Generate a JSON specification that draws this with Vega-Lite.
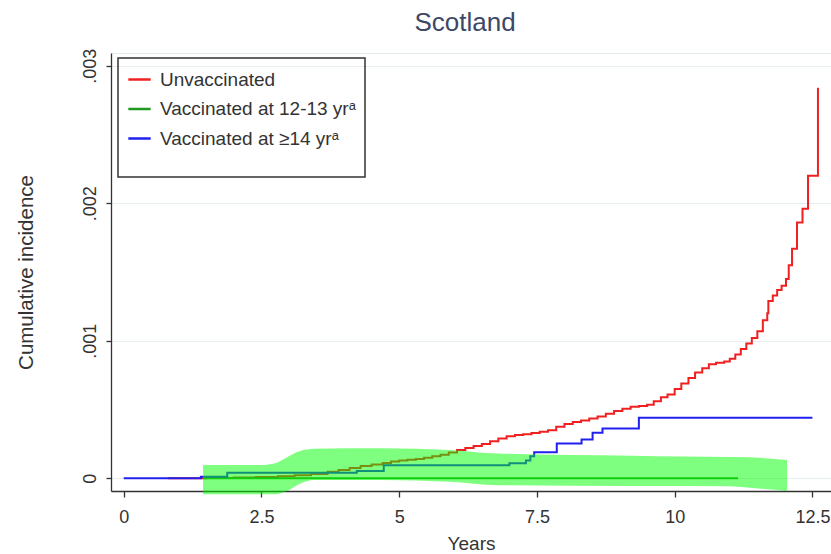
{
  "$schema": "https://vega.github.io/schema/vega-lite/v6.json",
  "autosize": "none",
  "padding": {"left": 111, "top": 53, "right": 0, "bottom": 63},
  "width": 720,
  "height": 438,
  "background": "white",
  "config": {
    "font": "Liberation Sans",
    "view": {"stroke": "#e4ecec", "strokeWidth": 1}
  },
  "title": {
    "text": "Scotland",
    "fontSize": 26,
    "fontWeight": "normal",
    "color": "#3d4766",
    "anchor": "middle",
    "offset": 12,
    "dx": -6
  },
  "datasets": {
    "curves": [
      {"series": "Unvaccinated", "years": 0.8, "ci": 0},
      {"series": "Unvaccinated", "years": 1.5, "ci": 0.000003},
      {"series": "Unvaccinated", "years": 2.0, "ci": 0.000006},
      {"series": "Unvaccinated", "years": 2.4, "ci": 0.00001},
      {"series": "Unvaccinated", "years": 2.8, "ci": 0.000015},
      {"series": "Unvaccinated", "years": 3.1, "ci": 0.000022},
      {"series": "Unvaccinated", "years": 3.4, "ci": 0.000032},
      {"series": "Unvaccinated", "years": 3.7, "ci": 0.000048},
      {"series": "Unvaccinated", "years": 3.9, "ci": 0.00006},
      {"series": "Unvaccinated", "years": 4.1, "ci": 0.000075},
      {"series": "Unvaccinated", "years": 4.3, "ci": 0.00009},
      {"series": "Unvaccinated", "years": 4.5, "ci": 0.0001},
      {"series": "Unvaccinated", "years": 4.7, "ci": 0.000112},
      {"series": "Unvaccinated", "years": 4.85, "ci": 0.000122},
      {"series": "Unvaccinated", "years": 5.0, "ci": 0.00013},
      {"series": "Unvaccinated", "years": 5.15, "ci": 0.000135},
      {"series": "Unvaccinated", "years": 5.3, "ci": 0.00014},
      {"series": "Unvaccinated", "years": 5.45, "ci": 0.00015},
      {"series": "Unvaccinated", "years": 5.6, "ci": 0.00016},
      {"series": "Unvaccinated", "years": 5.75, "ci": 0.000172},
      {"series": "Unvaccinated", "years": 5.9, "ci": 0.000188},
      {"series": "Unvaccinated", "years": 6.05, "ci": 0.000205},
      {"series": "Unvaccinated", "years": 6.2, "ci": 0.00022},
      {"series": "Unvaccinated", "years": 6.35, "ci": 0.000235},
      {"series": "Unvaccinated", "years": 6.5, "ci": 0.00025},
      {"series": "Unvaccinated", "years": 6.65, "ci": 0.00027},
      {"series": "Unvaccinated", "years": 6.8, "ci": 0.00029},
      {"series": "Unvaccinated", "years": 6.95, "ci": 0.000305},
      {"series": "Unvaccinated", "years": 7.1, "ci": 0.000315},
      {"series": "Unvaccinated", "years": 7.25, "ci": 0.00032},
      {"series": "Unvaccinated", "years": 7.4, "ci": 0.00033},
      {"series": "Unvaccinated", "years": 7.55, "ci": 0.000338},
      {"series": "Unvaccinated", "years": 7.7, "ci": 0.00035},
      {"series": "Unvaccinated", "years": 7.85, "ci": 0.000375},
      {"series": "Unvaccinated", "years": 8.0, "ci": 0.000395},
      {"series": "Unvaccinated", "years": 8.15, "ci": 0.00041},
      {"series": "Unvaccinated", "years": 8.3, "ci": 0.00042},
      {"series": "Unvaccinated", "years": 8.45, "ci": 0.000435},
      {"series": "Unvaccinated", "years": 8.6, "ci": 0.00045},
      {"series": "Unvaccinated", "years": 8.75, "ci": 0.00047},
      {"series": "Unvaccinated", "years": 8.9, "ci": 0.00049},
      {"series": "Unvaccinated", "years": 9.05, "ci": 0.000505},
      {"series": "Unvaccinated", "years": 9.2, "ci": 0.00052},
      {"series": "Unvaccinated", "years": 9.35, "ci": 0.000525},
      {"series": "Unvaccinated", "years": 9.5, "ci": 0.000535},
      {"series": "Unvaccinated", "years": 9.62, "ci": 0.00056},
      {"series": "Unvaccinated", "years": 9.75, "ci": 0.00059},
      {"series": "Unvaccinated", "years": 9.87, "ci": 0.00061},
      {"series": "Unvaccinated", "years": 10.0, "ci": 0.00065},
      {"series": "Unvaccinated", "years": 10.12, "ci": 0.00069},
      {"series": "Unvaccinated", "years": 10.25, "ci": 0.00073},
      {"series": "Unvaccinated", "years": 10.37, "ci": 0.00077},
      {"series": "Unvaccinated", "years": 10.5, "ci": 0.0008},
      {"series": "Unvaccinated", "years": 10.62, "ci": 0.00083},
      {"series": "Unvaccinated", "years": 10.75, "ci": 0.00084},
      {"series": "Unvaccinated", "years": 10.9, "ci": 0.00085},
      {"series": "Unvaccinated", "years": 11.0, "ci": 0.00087},
      {"series": "Unvaccinated", "years": 11.1, "ci": 0.0009},
      {"series": "Unvaccinated", "years": 11.2, "ci": 0.00094},
      {"series": "Unvaccinated", "years": 11.3, "ci": 0.00098},
      {"series": "Unvaccinated", "years": 11.4, "ci": 0.00102},
      {"series": "Unvaccinated", "years": 11.5, "ci": 0.00107},
      {"series": "Unvaccinated", "years": 11.6, "ci": 0.00115},
      {"series": "Unvaccinated", "years": 11.68, "ci": 0.0012},
      {"series": "Unvaccinated", "years": 11.7, "ci": 0.00129},
      {"series": "Unvaccinated", "years": 11.78, "ci": 0.00133},
      {"series": "Unvaccinated", "years": 11.86, "ci": 0.00137},
      {"series": "Unvaccinated", "years": 11.94, "ci": 0.0014},
      {"series": "Unvaccinated", "years": 12.02, "ci": 0.00145},
      {"series": "Unvaccinated", "years": 12.07, "ci": 0.00155},
      {"series": "Unvaccinated", "years": 12.13, "ci": 0.00167},
      {"series": "Unvaccinated", "years": 12.22, "ci": 0.00186},
      {"series": "Unvaccinated", "years": 12.32, "ci": 0.00196},
      {"series": "Unvaccinated", "years": 12.42, "ci": 0.0022},
      {"series": "Unvaccinated", "years": 12.6, "ci": 0.00284},
      {"series": "Vaccinated at 12-13 yrᵃ", "years": 1.45, "ci": 0},
      {"series": "Vaccinated at 12-13 yrᵃ", "years": 11.15, "ci": 0},
      {"series": "Vaccinated at ≥14 yrᵃ", "years": 0, "ci": 0},
      {"series": "Vaccinated at ≥14 yrᵃ", "years": 1.4, "ci": 0.000012},
      {"series": "Vaccinated at ≥14 yrᵃ", "years": 1.88, "ci": 0.00004},
      {"series": "Vaccinated at ≥14 yrᵃ", "years": 4.23, "ci": 0.000053},
      {"series": "Vaccinated at ≥14 yrᵃ", "years": 4.72, "ci": 0.000095},
      {"series": "Vaccinated at ≥14 yrᵃ", "years": 7.0, "ci": 0.00011},
      {"series": "Vaccinated at ≥14 yrᵃ", "years": 7.3, "ci": 0.00013},
      {"series": "Vaccinated at ≥14 yrᵃ", "years": 7.38, "ci": 0.00016},
      {"series": "Vaccinated at ≥14 yrᵃ", "years": 7.45, "ci": 0.00019},
      {"series": "Vaccinated at ≥14 yrᵃ", "years": 7.86, "ci": 0.000253},
      {"series": "Vaccinated at ≥14 yrᵃ", "years": 8.31, "ci": 0.000282},
      {"series": "Vaccinated at ≥14 yrᵃ", "years": 8.51, "ci": 0.000331},
      {"series": "Vaccinated at ≥14 yrᵃ", "years": 8.69, "ci": 0.000363},
      {"series": "Vaccinated at ≥14 yrᵃ", "years": 9.35, "ci": 0.00044},
      {"series": "Vaccinated at ≥14 yrᵃ", "years": 12.5, "ci": 0.00044}
    ],
    "highlight": [
      {"years": 1.44, "top": 0.000097, "bottom": -0.000116},
      {"years": 2.5, "top": 0.000097, "bottom": -0.000116},
      {"years": 2.75, "top": 0.00011, "bottom": -0.000116},
      {"years": 2.95, "top": 0.00015, "bottom": -0.000095},
      {"years": 3.2, "top": 0.000198, "bottom": -0.00004},
      {"years": 3.45, "top": 0.000215, "bottom": -0.000013},
      {"years": 4.7, "top": 0.000218, "bottom": -0.000013},
      {"years": 5.9, "top": 0.000206, "bottom": -0.000025},
      {"years": 6.8, "top": 0.00018, "bottom": -0.00005},
      {"years": 9.24, "top": 0.000164, "bottom": -0.000056},
      {"years": 11.0, "top": 0.000155, "bottom": -0.000057},
      {"years": 11.1, "top": 0.000155, "bottom": -0.00006},
      {"years": 12.04, "top": 0.000133, "bottom": -0.000092}
    ]
  },
  "layer": [
    {
      "data": {"name": "curves"},
      "mark": {"type": "line", "interpolate": "step-after", "strokeWidth": 2},
      "encoding": {
        "x": {
          "field": "years",
          "type": "quantitative",
          "scale": {"domain": [-0.2305, 12.837], "nice": false, "zero": false},
          "axis": {
            "title": "Years",
            "values": [0, 2.5, 5, 7.5, 10, 12.5],
            "labelExpr": "datum.value + ''",
            "grid": false,
            "domainColor": "#333333",
            "domainWidth": 1.3,
            "tickColor": "#333333",
            "tickWidth": 1.3,
            "tickSize": 6,
            "labelFontSize": 18,
            "labelColor": "#333333",
            "labelPadding": 11,
            "labelFlush": false,
            "titleFontSize": 19,
            "titleFontWeight": "normal",
            "titleColor": "#333333",
            "titlePadding": 8
          }
        },
        "y": {
          "field": "ci",
          "type": "quantitative",
          "scale": {"domain": [-0.0000924, 0.003093], "nice": false, "zero": false},
          "axis": {
            "title": "Cumulative incidence",
            "values": [0, 0.001, 0.002, 0.003],
            "labelExpr": "datum.value == 0 ? '0' : replace(format(datum.value, '.3f'), '0.', '.')",
            "grid": true,
            "gridColor": "#e6eeee",
            "gridWidth": 1,
            "domainColor": "#333333",
            "domainWidth": 1.3,
            "tickColor": "#333333",
            "tickWidth": 1.3,
            "tickSize": 5,
            "labelAngle": -90,
            "labelAlign": "center",
            "labelBaseline": "bottom",
            "labelFontSize": 18,
            "labelColor": "#333333",
            "labelPadding": 7,
            "labelFlush": false,
            "titleFontSize": 20.5,
            "titleFontWeight": "normal",
            "titleColor": "#333333",
            "titlePadding": 45
          }
        },
        "color": {
          "field": "series",
          "type": "nominal",
          "scale": {
            "domain": ["Unvaccinated", "Vaccinated at 12-13 yrᵃ", "Vaccinated at ≥14 yrᵃ"],
            "range": ["#f02020", "#1f9a1f", "#2020f0"]
          },
          "legend": {
            "orient": "none",
            "legendX": 7,
            "legendY": 5,
            "title": " ",
            "titleOrient": "bottom",
            "titleFontSize": 8,
            "titlePadding": 11,
            "strokeColor": "#333333",
            "padding": 9,
            "symbolType": "stroke",
            "symbolSize": 500,
            "symbolStrokeWidth": 2.5,
            "labelFontSize": 19,
            "labelColor": "#333333",
            "labelOffset": 8,
            "labelLimit": 400,
            "rowPadding": 6.5,
            "encode": {"legend": {"update": {"strokeWidth": {"value": 1.5}}}}
          }
        }
      }
    },
    {
      "data": {"name": "highlight"},
      "mark": {"type": "area", "interpolate": "monotone", "color": "#00ff00", "opacity": 0.5},
      "encoding": {
        "x": {"field": "years", "type": "quantitative"},
        "y": {"field": "top", "type": "quantitative"},
        "y2": {"field": "bottom"}
      }
    }
  ]
}
